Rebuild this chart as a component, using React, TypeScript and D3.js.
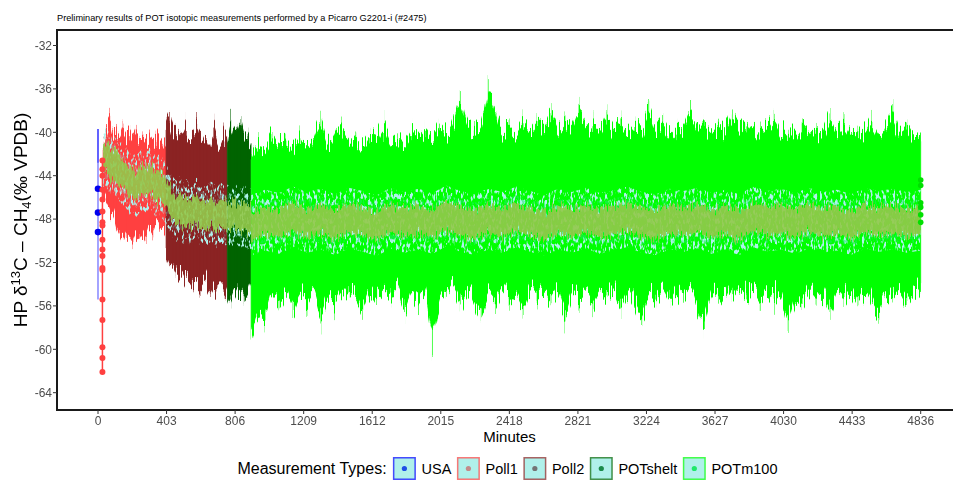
import * as d3 from "d3";

const chartTitle =
  "Preliminary results of POT isotopic measurements performed by a Picarro G2201-i (#2475)";
const xTitle = "Minutes";
const legendTitle = "Measurement Types:";

const typeNames = ["USA", "Poll1", "Poll2", "POTshelt", "POTm100"];
const typeColors = ["#0000ff", "#ff4040", "#8b2323", "#006400", "#00ff00"];
const keyDotColors = ["#1f4fe6", "#c48a8a", "#747474", "#1b8b4b", "#1fe86a"];

const xTicks = [0, 403, 806, 1209, 1612, 2015, 2418, 2821, 3224, 3627, 4030, 4433, 4836];
const yTicks = [-32, -36, -40, -44, -48, -52, -56, -60, -64];

// USA reference gas, all at the first minute
const usaMinute = 0;
const usaValues = [-45.2, -47.4, -49.2];
const usaRange = [-39.7, -55.4];
const usaFirstRun = [-39.7, -42.8];

// Poll1 calibration drop
const poll1CalMinute = 26;
const poll1CalValues = [
  -42.6, -43.4, -44.0, -45.3, -46.2, -47.3, -48.3, -48.6, -49.9, -50.8, -51.4, -52.5,
  -52.7, -55.4, -57.3, -59.8, -60.8, -62.1,
];

// POTm100 points at the last minute
const m100EndMinute = 4836;
const m100EndValues = [-44.4, -44.9, -46.5, -46.9, -47.6, -48.3];

// noisy runs: envelope (max / min) and running mean, evenly spaced over the span
const poll1Span = [30, 400];
const poll1Upper = [
  -41.5, -39.4, -38.3, -40.2, -39.6, -40.8, -39.2, -40.5, -39.8, -40.9, -39.5, -40.6, -40.1,
  -41.0, -40.3, -41.2, -40.4, -41.4, -40.6, -41.2,
];
const poll1Lower = [
  -46.0, -46.8, -47.5, -47.2, -48.6, -49.5, -48.9, -50.1, -49.3, -50.4, -49.0, -49.8, -48.7,
  -50.2, -48.2, -49.5, -47.9, -48.8, -48.3, -49.0,
];
const poll1Mean = [
  -42.4, -42.3, -42.8, -43.1, -43.0, -43.6, -43.9, -44.2, -44.8, -44.5, -45.0, -44.6, -44.3,
  -44.7, -44.2, -44.5, -45.1, -44.8, -45.2, -45.6,
];

const poll2Span = [400, 760];
const poll2Upper = [
  -39.5, -38.4, -40.6, -39.8, -40.2, -41.0, -39.6, -40.7, -40.1, -39.3, -41.2, -40.4, -40.9,
  -41.5, -39.2, -40.8, -41.6, -40.2, -40.9,
];
const poll2Lower = [
  -51.5, -52.8, -52.2, -53.4, -52.6, -53.0, -53.8, -52.9, -54.1, -53.5, -54.6, -53.7, -54.3,
  -55.0, -53.9, -54.5, -53.8, -54.9, -54.2,
];
const poll2Mean = [
  -45.6, -46.3, -46.9, -47.3, -46.8, -47.5, -47.1, -47.6, -47.2, -47.0, -47.6, -47.4, -47.8,
  -47.3, -47.5, -47.9, -47.4, -47.7, -47.5,
];

const shelterSpan = [760, 900];
const shelterUpper = [-41.0, -38.3, -40.5, -39.9, -38.6, -40.8, -40.2, -41.2];
const shelterLower = [-54.5, -55.6, -53.9, -55.2, -54.3, -55.7, -54.8, -54.0];
const shelterMean = [-47.6, -47.9, -47.4, -47.8, -48.0, -47.6, -48.1, -47.9];

const m100Span = [900, 4836];
const m100Upper = [
  -42.3, -40.9, -41.8, -39.7, -41.6, -40.4, -41.9, -40.1, -41.5, -40.6,
  -38.2, -41.7, -40.3, -39.1, -41.4, -40.2, -41.8, -39.8, -41.2, -38.5,
  -41.5, -40.0, -41.6, -39.6, -41.0, -39.4, -41.3, -39.2, -40.8, -39.5,
  -36.2, -40.6, -39.0, -40.9, -35.1, -37.6, -40.4, -39.1, -40.7, -38.8,
  -40.5, -38.6, -40.2, -37.4, -40.6, -38.9, -40.3, -37.2, -40.1, -38.7,
  -40.5, -37.6, -40.2, -38.9, -40.6, -39.0, -40.3, -36.9, -40.4, -38.5,
  -40.7, -39.2, -40.1, -37.3, -40.5, -38.8, -40.2, -39.3, -40.6, -37.8,
  -40.3, -38.9, -40.8, -39.1, -40.4, -38.3, -40.7, -39.4, -40.9, -38.9,
  -40.5, -39.6, -40.8, -37.8, -40.6, -38.6, -40.9, -39.3, -40.7, -38.4,
  -41.0, -39.5, -37.4, -40.6, -39.0, -40.8, -40.1,
];
const m100Lower = [
  -59.1, -56.2, -57.8, -54.0, -56.5, -53.8, -57.3, -54.2, -56.0, -53.6,
  -57.9, -54.4, -56.3, -53.9, -55.8, -54.1, -57.1, -53.7, -56.0, -54.3,
  -55.6, -53.8, -57.4, -54.0, -56.2, -53.6, -60.5, -54.3, -55.9, -53.7,
  -56.6, -54.1, -55.4, -57.6, -54.0, -56.1, -53.5, -55.8, -54.2, -56.9,
  -53.8, -55.5, -54.0, -56.4, -53.6, -57.8, -54.2, -55.7, -53.9, -56.3,
  -54.1, -55.4, -53.7, -56.8, -54.0, -55.9, -57.5, -54.2, -55.6, -53.8,
  -56.2, -54.1, -55.8, -53.9, -56.5, -58.1, -54.0, -55.7, -53.8, -56.3,
  -54.2, -55.5, -53.6, -56.0, -54.1, -55.9, -54.0, -58.4, -54.3, -56.1,
  -53.9, -55.7, -54.2, -57.2, -54.0, -55.8, -53.7, -56.4, -54.1, -55.6,
  -57.0, -54.2, -55.5, -53.9, -56.2, -54.3, -55.1,
];
const m100Mean = [
  -48.6, -48.1, -48.4, -47.8, -48.3, -48.0, -48.5, -47.9, -48.2, -48.6,
  -47.9, -48.3, -48.0, -48.4, -47.7, -48.2, -48.5, -48.0, -48.3, -47.8,
  -48.2, -48.6, -48.0, -48.3, -47.9, -48.4, -48.1, -47.8, -48.3, -48.5,
  -48.0, -48.2, -47.9, -48.4, -48.1, -48.5, -47.8, -48.2, -48.0, -48.4,
  -47.9, -48.3, -48.1, -48.5, -47.9, -48.2, -48.0, -48.3, -48.1,
];

const runs = [
  { type: 1, span: poll1Span, upper: poll1Upper, lower: poll1Lower, mean: poll1Mean },
  { type: 2, span: poll2Span, upper: poll2Upper, lower: poll2Lower, mean: poll2Mean },
  { type: 3, span: shelterSpan, upper: shelterUpper, lower: shelterLower, mean: shelterMean },
  { type: 4, span: m100Span, upper: m100Upper, lower: m100Lower, mean: m100Mean },
];

const font = "'Liberation Sans', Arial, sans-serif";

const measure = (text: string, size: number) => {
  const ctx = document.createElement("canvas").getContext("2d");
  if (!ctx) return text.length * size * 0.55;
  ctx.font = `${size}px ${font}`;
  return ctx.measureText(text).width;
};

const App = () => {
  const width = 953;
  const height = 481;
  const panel = { left: 57, top: 30, right: 962, bottom: 410 };
  const pw = panel.right - panel.left;
  const ph = panel.bottom - panel.top;

  const x = d3.scaleLinear().domain([0, 4836]).range([98, 920.7]);
  const y = d3.scaleLinear().domain([-32, -64]).range([45.5, 392.7]);

  const ribbonHalf = 2.8;
  const innerHalf = 2.0;
  const oliveHalf = 1.3;

  const layers = runs.map((r) => {
    const atU = d3.scaleLinear().domain([0, r.upper.length - 1]).range(r.span);
    const atM = d3.scaleLinear().domain([0, r.mean.length - 1]).range(r.span);
    const outer = d3
      .area<number>()
      .x((_, i) => x(atU(i)))
      .y1((d) => y(d))
      .y0((_, i) => y(r.lower[i]))
      .curve(d3.curveBasis)(r.upper);
    const band = (half: number) =>
      d3
        .area<number>()
        .x((_, i) => x(atM(i)))
        .y0((d) => y(d - half))
        .y1((d) => y(d + half))(r.mean) ?? "";
    const spikes = r.upper.map((u, i) => ({ x: x(atU(i)), y1: y(u), y2: y(r.lower[i]) }));
    return {
      ...r,
      outer: outer ?? "",
      ribbon: band(ribbonHalf),
      inner: band(innerHalf),
      olive: band(oliveHalf),
      spikes,
    };
  });

  const calLine = d3
    .line<number>()
    .x(() => x(poll1CalMinute))
    .y((d) => y(d))(poll1CalValues);

  // legend layout
  const legendY = 457;
  const keySize = 23;
  const titleSize = 16;
  const labelSize = 14.5;
  const titleW = measure(legendTitle, titleSize);
  const labelW = typeNames.map((n) => measure(n, labelSize));
  const totalW = titleW + 6 + d3.sum(labelW.map((w) => keySize + 5.6 + w + 5.6)) - 5.6;
  const legendX = (panel.left + panel.right) / 2 - totalW / 2 - 2;
  let cursor = legendX + titleW + 6;
  const keys = typeNames.map((n, i) => {
    const k = { name: n, i, x: cursor };
    cursor += keySize + 5.6 + labelW[i] + 5.6;
    return k;
  });

  const midY = (panel.top + panel.bottom) / 2;
  const fRegion = { x: panel.left, y: panel.top, width: pw, height: ph };

  return (
    <svg
      width={width}
      height={height}
      style={{ position: "absolute", left: 0, top: 0, background: "#fff" }}
      fontFamily={font}
    >
      <defs>
        <clipPath id="panel-clip">
          <rect x={panel.left} y={panel.top} width={pw} height={ph} />
        </clipPath>
        {/* column-wise vertical jitter: gives the dense raw trace its ragged edges */}
        <filter id="grass" filterUnits="userSpaceOnUse" {...fRegion} colorInterpolationFilters="sRGB">
          <feTurbulence type="fractalNoise" baseFrequency="0.9 0.012" numOctaves={2} seed={7} result="n" />
          <feColorMatrix
            in="n"
            type="matrix"
            values="1 0 0 0 0  0 0 0 0 0.5  0 0 0 0 0  0 0 0 0 1"
            result="map"
          />
          <feDisplacementMap in="SourceGraphic" in2="map" scale={46} xChannelSelector="G" yChannelSelector="R" />
        </filter>
        <filter id="grass-fine" filterUnits="userSpaceOnUse" {...fRegion} colorInterpolationFilters="sRGB">
          <feTurbulence type="fractalNoise" baseFrequency="0.8 0.03" numOctaves={2} seed={3} result="n" />
          <feColorMatrix
            in="n"
            type="matrix"
            values="1 0 0 0 0  0 0 0 0 0.5  0 0 0 0 0  0 0 0 0 1"
            result="map"
          />
          <feDisplacementMap in="SourceGraphic" in2="map" scale={22} xChannelSelector="G" yChannelSelector="R" />
        </filter>
        {/* speckled visibility for the ribbons behind the trace */}
        <filter id="speckle" filterUnits="userSpaceOnUse" {...fRegion} colorInterpolationFilters="sRGB">
          <feTurbulence type="fractalNoise" baseFrequency="0.45 0.16" numOctaves={2} seed={11} result="n" />
          <feColorMatrix
            in="n"
            type="matrix"
            values="0 0 0 0 0  0 0 0 0 0  0 0 0 0 0  7 0 0 0 -3.6"
            result="mask"
          />
          <feComposite in="SourceGraphic" in2="mask" operator="in" />
        </filter>
        <filter id="speckle2" filterUnits="userSpaceOnUse" {...fRegion} colorInterpolationFilters="sRGB">
          <feTurbulence type="fractalNoise" baseFrequency="0.5 0.2" numOctaves={2} seed={23} result="n" />
          <feColorMatrix
            in="n"
            type="matrix"
            values="0 0 0 0 0  0 0 0 0 0  0 0 0 0 0  6 0 0 0 -2.9"
            result="mask"
          />
          <feComposite in="SourceGraphic" in2="mask" operator="in" />
        </filter>
      </defs>

      <text x={panel.left} y={21} fontSize={9.2} fill="#000">
        {chartTitle}
      </text>

      <g clipPath="url(#panel-clip)">
        <g filter="url(#grass)">
          {layers.map((l) => (
            <g key={`o${l.type}`}>
              <path d={l.outer} fill={typeColors[l.type]} />
              <g stroke={typeColors[l.type]} strokeWidth={1} opacity={0.7}>
                {l.spikes.map((s, i) => (
                  <line key={i} x1={s.x} x2={s.x} y1={s.y1} y2={s.y2} />
                ))}
              </g>
            </g>
          ))}
        </g>
        <g filter="url(#speckle)">
          {layers.map((l) => (
            <path key={`r${l.type}`} d={l.ribbon} fill="#aef2ec" />
          ))}
        </g>
        <g filter="url(#speckle2)" opacity={0.55}>
          {layers.map((l) => (
            <path key={`i${l.type}`} d={l.inner} fill={keyDotColors[l.type]} />
          ))}
        </g>
        <g filter="url(#grass-fine)">
          {layers.map((l) => (
            <path key={`m${l.type}`} d={l.olive} fill="#93c84a" opacity={0.9} />
          ))}
        </g>

        <line
          x1={x(usaMinute)}
          x2={x(usaMinute)}
          y1={y(usaRange[0])}
          y2={y(usaRange[1])}
          stroke="#0000ff"
          strokeOpacity={0.45}
          strokeWidth={1.6}
        />
        <line
          x1={x(usaMinute)}
          x2={x(usaMinute)}
          y1={y(usaFirstRun[0])}
          y2={y(usaFirstRun[1])}
          stroke="#0000ff"
          strokeOpacity={0.5}
          strokeWidth={1.6}
        />
        {usaValues.map((v, i) => (
          <circle key={i} cx={x(usaMinute)} cy={y(v)} r={3.3} fill="#0000ee" />
        ))}

        <path d={calLine ?? ""} fill="none" stroke="#ff4040" strokeWidth={1.5} />
        {poll1CalValues.map((v, i) => (
          <circle key={i} cx={x(poll1CalMinute)} cy={y(v)} r={3} fill="#ff4040" />
        ))}

        {m100EndValues.map((v, i) => (
          <circle key={i} cx={x(m100EndMinute)} cy={y(v)} r={2.8} fill="#00e000" />
        ))}
      </g>

      <rect
        x={panel.left}
        y={panel.top}
        width={pw}
        height={ph}
        fill="none"
        stroke="#1a1a1a"
        strokeWidth={2}
      />

      {yTicks.map((t) => (
        <g key={t} transform={`translate(0,${y(t)})`}>
          <line x1={panel.left - 4} x2={panel.left} stroke="#333" strokeWidth={1} />
          <text x={panel.left - 5} dy="0.35em" textAnchor="end" fontSize={12} fill="#4d4d4d">
            {t}
          </text>
        </g>
      ))}
      {xTicks.map((t) => (
        <g key={t} transform={`translate(${x(t)},0)`}>
          <line y1={panel.bottom} y2={panel.bottom + 4} stroke="#333" strokeWidth={1} />
          <text y={424.8} textAnchor="middle" fontSize={12} fill="#4d4d4d">
            {t}
          </text>
        </g>
      ))}

      <text x={(panel.left + panel.right) / 2} y={442} textAnchor="middle" fontSize={15} fill="#000">
        {xTitle}
      </text>

      <text
        transform={`translate(27,${midY}) rotate(-90)`}
        textAnchor="middle"
        fontSize={19}
        fill="#000"
      >
        <tspan>HP δ</tspan>
        <tspan fontSize={13} dy={-7}>
          13
        </tspan>
        <tspan dy={7}>C – CH</tspan>
        <tspan fontSize={13} dy={4}>
          4
        </tspan>
        <tspan dy={-4}>(‰ VPDB)</tspan>
      </text>

      <text x={legendX} y={legendY + keySize / 2} dy="0.35em" fontSize={titleSize} fill="#000">
        {legendTitle}
      </text>
      {keys.map((k) => (
        <g key={k.name} transform={`translate(${k.x},${legendY})`}>
          <rect
            x={0.75}
            y={0.75}
            width={keySize - 1.5}
            height={keySize - 1.5}
            fill="#b0f0ea"
            stroke={typeColors[k.i]}
            strokeOpacity={0.7}
            strokeWidth={1.5}
          />
          <circle cx={keySize / 2} cy={keySize / 2} r={2.6} fill={keyDotColors[k.i]} />
          <text x={keySize + 5.6} y={keySize / 2} dy="0.35em" fontSize={labelSize} fill="#000">
            {k.name}
          </text>
        </g>
      ))}
    </svg>
  );
};

export default App;
